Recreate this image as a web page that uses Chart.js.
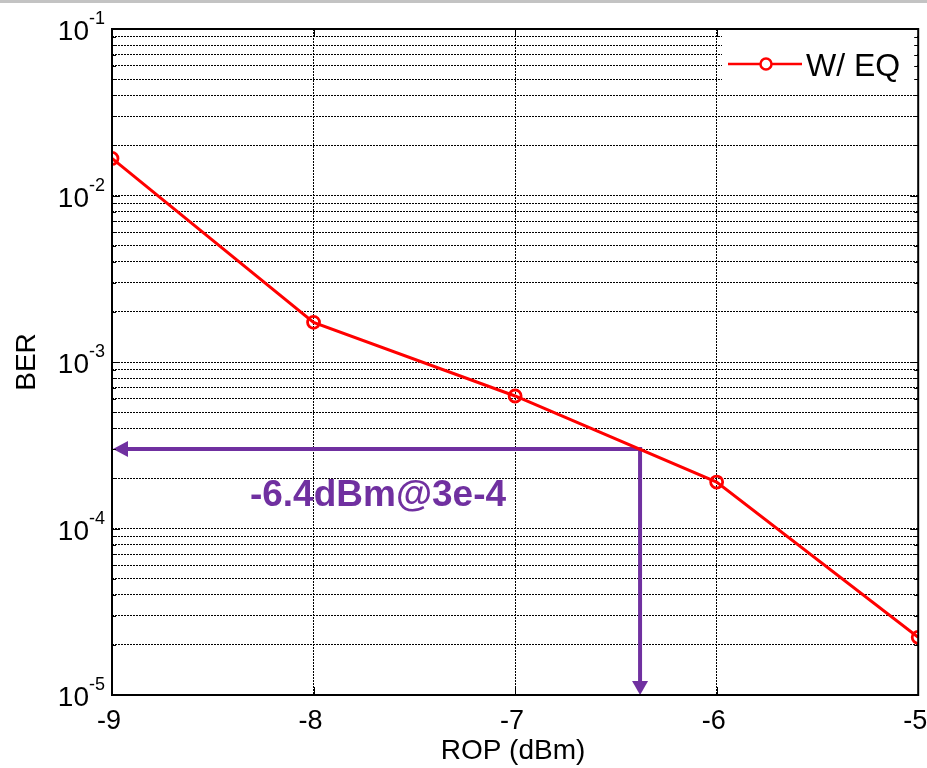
<!DOCTYPE html>
<html><head><meta charset="utf-8">
<script src="https://cdn.jsdelivr.net/npm/chart.js@4.4.0/dist/chart.umd.min.js"></script>
<style>
html,body{margin:0;padding:0;background:#fff;}
#bar{position:absolute;left:0;top:0;width:927px;height:3px;background:#c3c3c3;}
canvas{position:absolute;left:0;top:0;}
</style></head><body>
<canvas id="c" width="927" height="768"></canvas>
<div id="bar"></div>
<script>
// ---- data ----
const rop = [-9, -8, -7, -6, -5];
const ber = [1.67e-2, 1.73e-3, 6.25e-4, 1.90e-4, 2.22e-5];
const seriesName = 'W/ EQ';
const xTicks = [-9, -8, -7, -6, -5];
const yDecades = [-5, -4, -3, -2, -1];
const markRop = [-6.38];
const markBer = [3e-4];
const markLabel = ['-6.4dBm@3e-4'];
const xTitle = 'ROP (dBm)';
const yTitle = 'BER';

// grid values: 1..9 x 10^e for each decade plus top decade
const yGrid = [];
yDecades.forEach((e, i) => {
  if (i < yDecades.length - 1) { for (let m = 1; m <= 9; m++) yGrid.push(m * Math.pow(10, e)); }
  else yGrid.push(Math.pow(10, e));
});

const FAM = '"Liberation Sans", Arial, Helvetica, sans-serif';
const PURPLE = '#7030A0';

const matlab = {
  id: 'matlab',
  beforeDatasetsDraw(chart) {
    const ctx = chart.ctx, a = chart.chartArea, xs = chart.scales.x, ys = chart.scales.y;
    const vx = xs.getPixelForValue(markRop[0]);
    const hy = ys.getPixelForValue(markBer[0]);
    ctx.save();
    ctx.strokeStyle = PURPLE; ctx.fillStyle = PURPLE; ctx.lineWidth = 4; ctx.lineCap = 'butt';
    ctx.beginPath(); ctx.moveTo(vx + 2, hy); ctx.lineTo(a.left + 14, hy); ctx.stroke();
    ctx.beginPath(); ctx.moveTo(vx, hy - 2); ctx.lineTo(vx, a.bottom - 13); ctx.stroke();
    ctx.beginPath(); ctx.moveTo(a.left + 1, hy); ctx.lineTo(a.left + 16, hy - 8); ctx.lineTo(a.left + 16, hy + 8); ctx.closePath(); ctx.fill();
    ctx.beginPath(); ctx.moveTo(vx, a.bottom); ctx.lineTo(vx - 8, a.bottom - 14); ctx.lineTo(vx + 8, a.bottom - 14); ctx.closePath(); ctx.fill();
    ctx.font = 'bold 37px ' + FAM; ctx.textAlign = 'center'; ctx.textBaseline = 'middle';
    ctx.fillText(markLabel[0], 378, 496);
    ctx.restore();
  },
  afterDatasetsDraw(chart) {
    const ctx = chart.ctx, a = chart.chartArea, xs = chart.scales.x, ys = chart.scales.y;
    ctx.save();
    // legend
    const ds = chart.data.datasets[0];
    ctx.fillStyle = '#fff'; ctx.fillRect(722, a.top + 1, a.right - 722 - 1, 57);
    ctx.strokeStyle = ds.borderColor; ctx.lineWidth = 2.5;
    ctx.beginPath(); ctx.moveTo(728, 64); ctx.lineTo(802, 64); ctx.stroke();
    ctx.beginPath(); ctx.arc(766, 64, 5.5, 0, Math.PI * 2); ctx.fillStyle = '#fff'; ctx.fill(); ctx.stroke();
    ctx.fillStyle = '#000'; ctx.font = '32px ' + FAM; ctx.textAlign = 'left'; ctx.textBaseline = 'middle';
    ctx.fillText(ds.label, 806, 67);
    // box
    ctx.strokeStyle = '#000'; ctx.lineWidth = 2;
    ctx.strokeRect(a.left, a.top, a.right - a.left, a.bottom - a.top);
    // tick marks
    ctx.lineWidth = 1;
    ctx.beginPath();
    yGrid.forEach(v => {
      const y = Math.round(ys.getPixelForValue(v)) + 0.5;
      const major = Math.abs(Math.log10(v) - Math.round(Math.log10(v))) < 1e-9;
      const L = major ? 8 : 4;
      ctx.moveTo(a.left, y); ctx.lineTo(a.left + L, y);
      ctx.moveTo(a.right, y); ctx.lineTo(a.right - L, y);
    });
    xTicks.forEach(v => {
      const x = Math.round(xs.getPixelForValue(v)) + 0.5;
      ctx.moveTo(x, a.bottom); ctx.lineTo(x, a.bottom - 8);
      ctx.moveTo(x, a.top); ctx.lineTo(x, a.top + 8);
    });
    ctx.stroke();
    // x tick labels
    ctx.fillStyle = '#000'; ctx.font = '27px ' + FAM; ctx.textAlign = 'center'; ctx.textBaseline = 'alphabetic';
    xTicks.forEach(v => {
      ctx.fillText(String(v), xs.getPixelForValue(v) - 3, 729);
    });
    // y tick labels with superscript exponent
    ctx.textAlign = 'right';
    yDecades.forEach(e => {
      const y = ys.getPixelForValue(Math.pow(10, e));
      const sup = String(e);
      ctx.font = '18px ' + FAM;
      const sw = ctx.measureText(sup).width;
      ctx.fillText(sup, 105, y - 5);
      ctx.font = '28px ' + FAM;
      ctx.fillText('10', 105 - sw, y + 11);
    });
    // axis titles
    ctx.font = '28px ' + FAM; ctx.textAlign = 'center'; ctx.textBaseline = 'middle';
    ctx.fillText(xTitle, 513, 751);
    ctx.translate(27, (a.top + a.bottom) / 2);
    ctx.rotate(-Math.PI / 2);
    ctx.fillText(yTitle, 0, 0);
    ctx.restore();
  }
};

new Chart(document.getElementById('c').getContext('2d'), {
  type: 'line',
  data: {
    datasets: [{
      label: seriesName,
      data: rop.map((x, i) => ({ x: x, y: ber[i] })),
      borderColor: '#ff0000',
      borderWidth: 3,
      pointRadius: 6,
      pointBorderWidth: 2.8,
      pointBackgroundColor: 'rgba(255,255,255,0)',
      pointBorderColor: '#ff0000',
      tension: 0,
      fill: false
    }]
  },
  options: {
    responsive: false,
    animation: false,
    devicePixelRatio: 1,
    layout: { padding: { left: 112, right: 7, top: 29, bottom: 73 } },
    plugins: { legend: { display: false }, tooltip: { enabled: false } },
    scales: {
      x: {
        type: 'linear', min: -9, max: -5,
        afterBuildTicks: s => { s.ticks = xTicks.map(v => ({ value: v })); },
        afterFit: s => { s.height = 0; s.paddingLeft = 0; s.paddingRight = 0; },
        grid: { color: '#000', lineWidth: 1, drawTicks: false },
        border: { display: false, dash: [2, 1] },
        ticks: { display: false }
      },
      y: {
        type: 'logarithmic', min: 1e-5, max: 1e-1,
        afterBuildTicks: s => { s.ticks = yGrid.map(v => ({ value: v })); },
        afterFit: s => { s.width = 0; s.paddingTop = 0; s.paddingBottom = 0; },
        grid: { color: '#000', lineWidth: 1, drawTicks: false },
        border: { display: false, dash: [2, 1] },
        ticks: { display: false }
      }
    }
  },
  plugins: [matlab]
});
</script>
</body></html>
